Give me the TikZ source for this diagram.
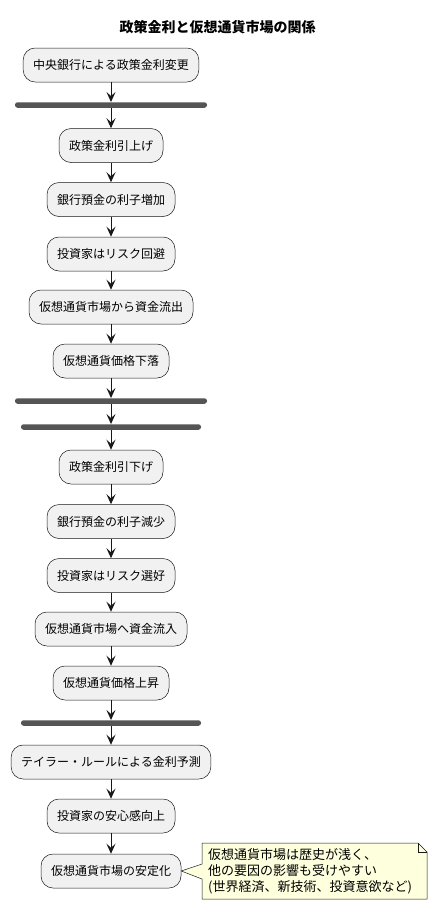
\documentclass[tikz,border=0pt]{standalone}
\usepackage{fontspec}
\setmainfont{Noto Sans CJK JP}
\usetikzlibrary{arrows.meta}
\definecolor{lineclr}{HTML}{181818}
\definecolor{actfill}{HTML}{F1F1F1}
\definecolor{barclr}{HTML}{555555}
\definecolor{notefill}{HTML}{FEFFDD}

\begin{document}
\begin{tikzpicture}[x=1pt,y=-1pt,every node/.style={font=\fontsize{12}{15}\selectfont},
    act/.style={draw=lineclr,line width=0.5pt,fill=actfill,rounded corners=12pt,
        minimum height=34pt,inner xsep=10pt,inner ysep=0pt},
    bar/.style={fill=barclr,rounded corners=2.5pt,minimum height=5.5pt,inner sep=0pt},
    flow/.style={draw=lineclr,line width=1pt,-{Stealth[length=10pt,width=9pt,inset=4pt]}}]
                \useasboundingbox (0,0) rectangle (438,910);
                \node[font=\fontsize{14}{16}\selectfont\bfseries] (title) at (217.5,27.5) {政策金利と仮想通貨市場の関係};
                % actions
                \foreach \n/\y/\t in {n1/65/中央銀行による政策金利変更, n2/145.5/政策金利引上げ,
                    n3/199.5/銀行預金の利子増加, n4/254/投資家はリスク回避,
                    n5/307/仮想通貨市場から資金流出, n6/361/仮想通貨価格下落,
                    n7/467/政策金利引下げ, n8/521.5/銀行預金の利子減少,
                    n9/575.5/投資家はリスク選好, n10/629/仮想通貨市場へ資金流入,
                    n11/683/仮想通貨価格上昇, n12/762/テイラー・ルールによる金利予測,
                    n13/816/投資家の安心感向上, n14/871/仮想通貨市場の安定化}{
                    \node[act] (\n) at (111,\y) {\t};
                }
                % sync bars
                \foreach \n/\y/\w in {b1/105/192, b2/401/192, b3/427/180, b4/723/180}{
                    \node[bar,minimum width=\w pt] (\n) at (111,\y) {};
                }
                \foreach \a/\b in {n1/b1, b1/n2, n2/n3, n3/n4, n4/n5, n5/n6, n6/b2, b2/b3, b3/n7,
                    n7/n8, n8/n9, n9/n10, n10/n11, n11/b4, b4/n12, n12/n13, n13/n14}{
                    \draw[flow] (\a) -- (\b);
                }
                % note
                \draw[draw=lineclr,line width=0.5pt,fill=notefill] (202,843) -- (418,843) -- (427,852)
                    -- (427,899) -- (202,899) -- (202,879) -- (n14.east) -- (202,864) -- cycle;
                \draw[draw=lineclr,line width=0.5pt] (418,843) -- (418,852) -- (427,852);
                \node[anchor=west,align=left,inner sep=4pt,font=\fontsize{13}{16}\selectfont] (note) at (204,871)
                    {仮想通貨市場は歴史が浅く、\\他の要因の影響も受けやすい\\(世界経済、新技術、投資意欲など)};
            \end{tikzpicture}
\end{document}
